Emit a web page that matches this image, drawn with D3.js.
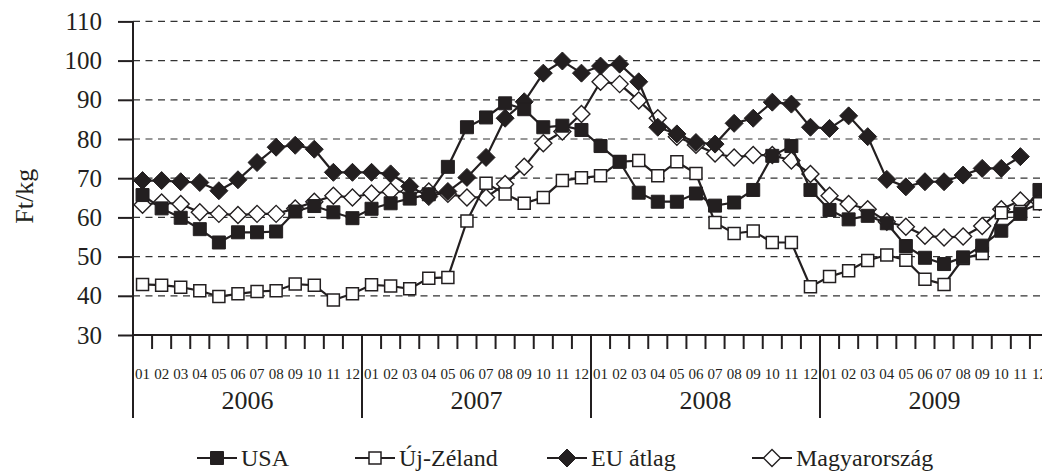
<!DOCTYPE html>
<html>
<head>
<meta charset="utf-8">
<script src="https://cdn.jsdelivr.net/npm/d3@7"></script>
<style>
  body { margin: 0; background: #fff; }
  svg text { font-family: "Liberation Serif", "Times New Roman", serif; fill: #231f20; }
</style>
</head>
<body>
<div id="svg_div"></div>
<script>
// chart values
var years = ["2006", "2007", "2008", "2009"];
var months = ["01", "02", "03", "04", "05", "06", "07", "08", "09", "10", "11", "12"];
var yTicks = [30, 40, 50, 60, 70, 80, 90, 100, 110];

var usa = [65.7, 62.3, 59.9, 57.0, 53.6, 56.2, 56.2, 56.4, 61.5, 62.9, 61.3, 59.8,
  62.2, 63.6, 64.8, 65.9, 72.9, 83.0, 85.5, 89.1, 87.6, 83.0, 83.4, 82.3,
  78.2, 74.2, 66.3, 64.0, 64.0, 66.1, 63.0, 63.8, 67.0, 75.7, 78.2, 67.0,
  61.9, 59.5, 60.4, 58.5, 52.7, 49.7, 48.1, 49.8, 52.8, 56.6, 60.9, 67.0];
var ujZeland = [42.9, 42.7, 42.2, 41.3, 39.8, 40.5, 41.1, 41.3, 43.0, 42.7, 38.9, 40.5,
  42.8, 42.5, 41.8, 44.5, 44.7, 59.1, 68.7, 66.0, 63.6, 65.1, 69.4, 70.1,
  70.6, 74.2, 74.5, 70.6, 74.2, 71.2, 58.7, 55.9, 56.5, 53.6, 53.6, 42.3,
  44.9, 46.4, 49.0, 50.4, 49.1, 44.2, 42.9, 49.5, 50.8, 61.2, 61.5, 63.5];
var euAtlag = [69.4, 69.4, 69.1, 68.9, 66.8, 69.6, 74.0, 77.9, 78.4, 77.4, 71.5, 71.5,
  71.5, 71.1, 67.9, 65.3, 66.6, 70.2, 75.3, 85.3, 89.5, 96.8, 99.9, 96.8,
  98.6, 99.1, 94.6, 83.0, 81.3, 79.1, 78.7, 84.0, 85.3, 89.4, 88.9, 83.0,
  82.7, 85.9, 80.6, 69.7, 67.8, 69.1, 69.1, 70.8, 72.5, 72.5, 75.5, null];
var magyarorszag = [63.2, 63.8, 63.4, 61.3, 60.9, 60.6, 60.9, 60.9, 62.3, 64.0, 65.5, 65.1,
  66.1, 66.6, 66.6, 66.6, 66.0, 65.1, 65.1, 68.5, 72.9, 78.9, 81.9, 86.4,
  94.6, 94.0, 89.8, 85.3, 80.6, 78.5, 76.3, 75.3, 75.9, 75.9, 74.5, 71.1,
  65.5, 63.4, 62.1, 58.9, 57.6, 55.3, 54.9, 55.1, 57.8, 62.1, 64.3, 64.0];

var seriesNames = ["USA", "Új-Zéland", "EU átlag", "Magyarország"];

// dimensions
var width = 1042, height = 474;
var plot = {left: 133, right: 1049, top: 21.4, bottom: 335, axisEnd: 418};
var ink = "#231f20";
var serif = "'Liberation Serif', 'Times New Roman', serif";

// one key per month
var keys = [];
years.forEach(function(yr) { months.forEach(function(m) { keys.push(yr + "-" + m); }); });

var x = d3.scaleBand().domain(keys).range([plot.left, plot.right]);
var xYear = d3.scaleBand().domain(years).range([plot.left, plot.right]);
var y = d3.scaleLinear().domain([30, 110]).range([plot.bottom, plot.top]);

var svg = d3.select("#svg_div")
  .append("svg")
  .attr("width", width)
  .attr("height", height)
  .style("font-family", serif);

// dashed gridlines
svg.append("g")
  .selectAll("line")
  .data(yTicks.filter(function(d) { return d > 30; }))
  .join("line")
  .attr("x1", plot.left).attr("x2", plot.right)
  .attr("y1", function(d) { return y(d); })
  .attr("y2", function(d) { return y(d); })
  .attr("stroke", "#333")
  .attr("stroke-width", 1.2)
  .attr("stroke-dasharray", "7,5.5");

// y axis with labels
var yAxis = svg.append("g")
  .attr("transform", `translate(${plot.left},0)`)
  .call(d3.axisLeft(y).tickValues(yTicks).tickSize(15).tickPadding(16));
yAxis.attr("font-family", null).attr("font-size", null);
yAxis.select(".domain").remove();
yAxis.selectAll(".tick line").attr("stroke", ink).attr("stroke-width", 2);
yAxis.selectAll(".tick text")
  .style("font-size", "25px")
  .style("font-family", serif)
  .attr("fill", ink);

svg.append("text")
  .attr("transform", `translate(33, ${(plot.top + plot.bottom) / 2 + 18}) rotate(-90)`)
  .attr("text-anchor", "middle")
  .style("font-size", "26px")
  .style("font-family", serif)
  .text("Ft/kg");

// left axis runs down past the labels
svg.append("line")
  .attr("x1", plot.left).attr("x2", plot.left)
  .attr("y1", plot.top).attr("y2", plot.axisEnd)
  .attr("stroke", ink).attr("stroke-width", 2);

// x axis line
svg.append("line")
  .attr("x1", plot.left).attr("x2", plot.right)
  .attr("y1", plot.bottom).attr("y2", plot.bottom)
  .attr("stroke", ink).attr("stroke-width", 2);

// month ticks between months, long lines between years
svg.append("g")
  .selectAll("line")
  .data(keys.filter(function(k) { return k.slice(5) != "01"; }))
  .join("line")
  .attr("x1", function(d) { return x(d); })
  .attr("x2", function(d) { return x(d); })
  .attr("y1", plot.bottom).attr("y2", plot.bottom + 14)
  .attr("stroke", ink).attr("stroke-width", 2);

svg.append("g")
  .selectAll("line")
  .data(years.slice(1))
  .join("line")
  .attr("x1", function(d) { return xYear(d); })
  .attr("x2", function(d) { return xYear(d); })
  .attr("y1", plot.bottom).attr("y2", plot.axisEnd)
  .attr("stroke", ink).attr("stroke-width", 2);

// month and year labels
svg.append("g")
  .selectAll("text")
  .data(keys)
  .join("text")
  .attr("x", function(d) { return x(d) + x.bandwidth() / 2; })
  .attr("y", 379)
  .attr("text-anchor", "middle")
  .style("font-size", "15px")
  .style("font-family", serif)
  .text(function(d) { return d.slice(5); });

svg.append("g")
  .selectAll("text")
  .data(years)
  .join("text")
  .attr("x", function(d) { return xYear(d) + xYear.bandwidth() / 2; })
  .attr("y", 409)
  .attr("text-anchor", "middle")
  .style("font-size", "26px")
  .style("font-family", serif)
  .text(function(d) { return d; });

// marker shapes
var squarePath = "M-6.5,-6.5H6.5V6.5H-6.5Z";
var diamondPath = "M0,-9L9,0L0,9L-9,0Z";
var styles = [
  {name: seriesNames[0], values: usa, path: squarePath, fill: ink, sw: 1},
  {name: seriesNames[1], values: ujZeland, path: "M-6,-6H6V6H-6Z", fill: "#fff", sw: 1.5},
  {name: seriesNames[2], values: euAtlag, path: diamondPath, fill: ink, sw: 1},
  {name: seriesNames[3], values: magyarorszag, path: "M0,-8.5L8.5,0L0,8.5L-8.5,0Z", fill: "#fff", sw: 1.4}
];

var line = d3.line()
  .defined(function(d) { return d.v != null; })
  .x(function(d) { return x(d.k) + x.bandwidth() / 2; })
  .y(function(d) { return y(d.v); });

// draw series, last one first so USA lies on top
styles.slice().reverse().forEach(function(s) {
  var pts = s.values.map(function(v, i) { return {k: keys[i], v: v}; });
  var g = svg.append("g");
  g.append("path")
    .attr("d", line(pts))
    .attr("fill", "none")
    .attr("stroke", ink)
    .attr("stroke-width", 2.2);
  g.selectAll("path.mark")
    .data(pts.filter(function(d) { return d.v != null; }))
    .join("path")
    .attr("class", "mark")
    .attr("d", s.path)
    .attr("transform", function(d) {
      return `translate(${x(d.k) + x.bandwidth() / 2},${y(d.v)})`;
    })
    .attr("fill", s.fill)
    .attr("stroke", ink)
    .attr("stroke-width", s.sw);
});

// legend
var legendX = [217, 375, 567, 772];
var legend = svg.append("g")
  .selectAll("g")
  .data(styles)
  .join("g")
  .attr("transform", function(d, i) { return `translate(${legendX[i]},458)`; });
legend.append("line")
  .attr("x1", -20).attr("x2", 20)
  .attr("stroke", ink).attr("stroke-width", 2.2);
legend.append("path")
  .attr("d", function(d) { return d.path; })
  .attr("fill", function(d) { return d.fill; })
  .attr("stroke", ink)
  .attr("stroke-width", function(d) { return d.sw; });
legend.append("text")
  .attr("x", 24)
  .attr("y", 8)
  .style("font-size", "24px")
  .style("font-family", serif)
  .text(function(d) { return d.name; });
</script>
</body>
</html>
